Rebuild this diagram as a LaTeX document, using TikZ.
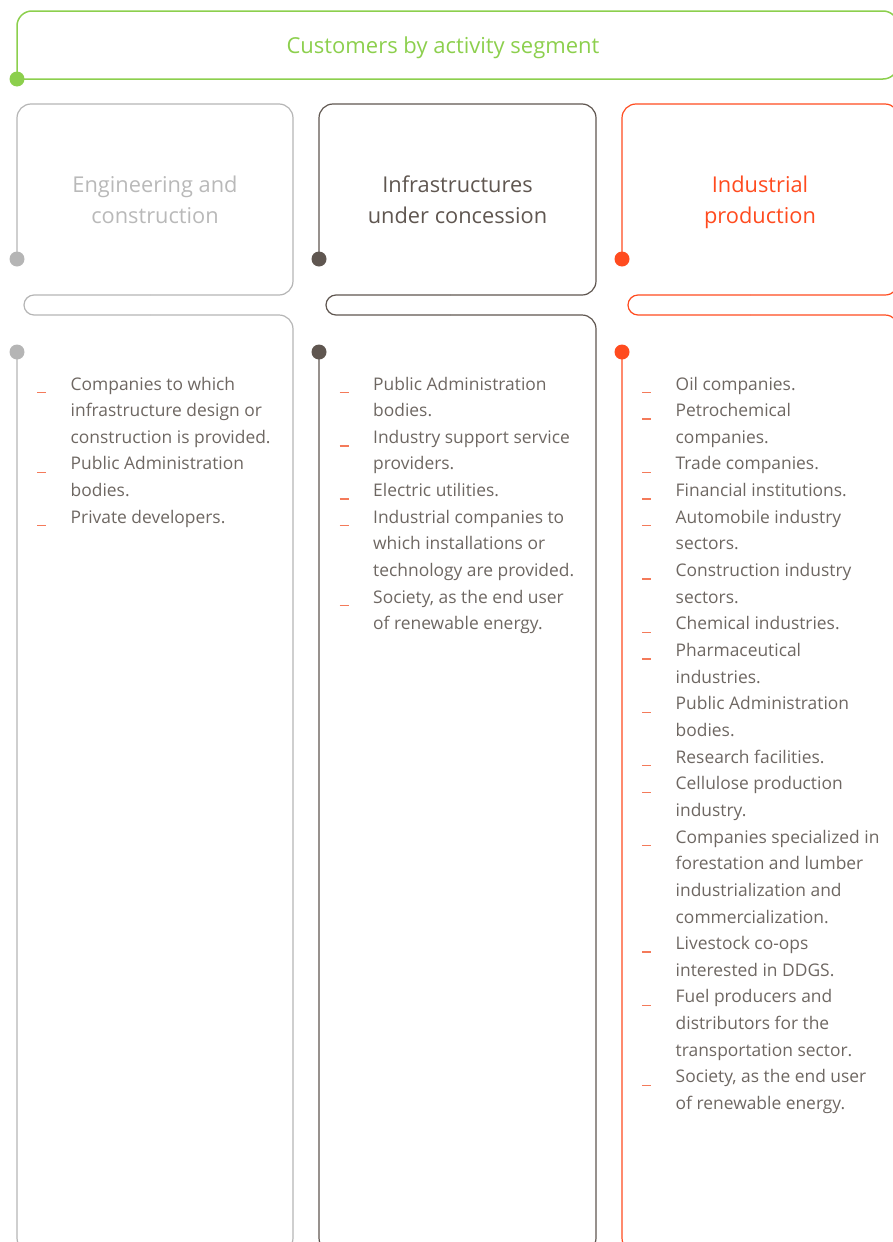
\documentclass[tikz,border=0pt]{standalone}
\usepackage{fontspec}
\setmainfont{Open Sans}
\definecolor{cgreen}{HTML}{8CCF4D}
\definecolor{cgray}{HTML}{B5B5B5}
\definecolor{cgraytxt}{HTML}{B9B9B9}
\definecolor{cbrown}{HTML}{5F5650}
\definecolor{corange}{HTML}{FF4B1F}
\definecolor{cdash}{HTML}{F47A5A}
\definecolor{cbody}{HTML}{6E6762}
\newcommand{\itdash}{\leavevmode\llap{{\color{cdash}\rule[-3.2pt]{9pt}{1.4pt}}\hspace{24.5pt}}}
\newcommand{\bodylist}[1]{\parbox[t]{240pt}{\fontsize{17.4}{26.65}\selectfont\raggedright #1}}
\newcommand{\headtxt}[1]{\parbox[t]{270pt}{\fontsize{21.8}{31.7}\selectfont\centering #1}}
\begin{document}
\begin{tikzpicture}[x=1pt,y=-1pt,
  frame/.style={line width=1.2pt, rounded corners=14pt},
  uturn/.style={line width=1.2pt, rounded corners=10pt},
  dotnode/.style={circle, fill, inner sep=0pt, minimum size=15pt},
  txt/.style={inner sep=0pt, anchor=base west, text=cbody},
  htxt/.style={inner sep=0pt, anchor=base}]
\useasboundingbox (0,0) rectangle (893,1242);
\clip (0,0) rectangle (893,1242);
% banner
\node[dotnode, cgreen] (dg) at (17,79) {};
\draw[cgreen, line width=1.5pt, rounded corners=15pt] (dg.center) -- (17,11) -- (898,11) -- (898,79) -- (dg.center);
\node[htxt, cgreen, font=\fontsize{22}{26}\selectfont] (title) at (443,53) {Customers by activity segment};
% column 1
\node[dotnode, cgray] (d1h) at (17,259) {};
\node[dotnode, cgray] (d1b) at (17,352) {};
\coordinate (u1a) at (150,295);
\coordinate (u1b) at (150,315);
\draw[cgray, frame] (d1h.center) -- (17,104) -- (293,104) -- (293,295) -- (u1a);
\draw[cgray, uturn] (u1a) -- (24,295) -- (24,315) -- (u1b);
\draw[cgray, frame] (u1b) -- (293,315) -- (293,1252) -- (17,1252) -- (d1b.center);
\node[htxt, cgraytxt] (h1) at (155,192) {\headtxt{Engineering and\\construction}};
\node[txt] (l1) at (70.5,390) {\bodylist{%
\itdash Companies to which\\
infrastructure design or\\
construction is provided.\\
\itdash Public Administration\\
bodies.\\
\itdash Private developers.}};
% column 2
\node[dotnode, cbrown] (d2h) at (319,259) {};
\node[dotnode, cbrown] (d2b) at (319,352) {};
\coordinate (u2a) at (450,295);
\coordinate (u2b) at (450,315);
\draw[cbrown, frame] (d2h.center) -- (319,104) -- (596,104) -- (596,295) -- (u2a);
\draw[cbrown, uturn] (u2a) -- (326,295) -- (326,315) -- (u2b);
\draw[cbrown, frame] (u2b) -- (596,315) -- (596,1252) -- (319,1252) -- (d2b.center);
\node[htxt, cbrown] (h2) at (457.5,192) {\headtxt{Infrastructures\\under concession}};
\node[txt] (l2) at (373,390) {\bodylist{%
\itdash Public Administration\\
bodies.\\
\itdash Industry support service\\
providers.\\
\itdash Electric utilities.\\
\itdash Industrial companies to\\
which installations or\\
technology are provided.\\
\itdash Society, as the end user\\
of renewable energy.}};
% column 3
\node[dotnode, corange] (d3h) at (622,259) {};
\node[dotnode, corange] (d3b) at (622,352) {};
\coordinate (u3a) at (750,295);
\coordinate (u3b) at (750,315);
\draw[corange, frame] (d3h.center) -- (622,104) -- (899,104) -- (899,295) -- (u3a);
\draw[corange, uturn] (u3a) -- (628,295) -- (628,315) -- (u3b);
\draw[corange, frame] (u3b) -- (899,315) -- (899,1252) -- (622,1252) -- (d3b.center);
\node[htxt, corange] (h3) at (760,192) {\headtxt{Industrial\\production}};
\node[txt] (l3) at (675.5,390) {\bodylist{%
\itdash Oil companies.\\
\itdash Petrochemical\\
companies.\\
\itdash Trade companies.\\
\itdash Financial institutions.\\
\itdash Automobile industry\\
sectors.\\
\itdash Construction industry\\
sectors.\\
\itdash Chemical industries.\\
\itdash Pharmaceutical\\
industries.\\
\itdash Public Administration\\
bodies.\\
\itdash Research facilities.\\
\itdash Cellulose production\\
industry.\\
\itdash Companies specialized in\\
forestation and lumber\\
industrialization and\\
commercialization.\\
\itdash Livestock co-ops\\
interested in DDGS.\\
\itdash Fuel producers and\\
distributors for the\\
transportation sector.\\
\itdash Society, as the end user\\
of renewable energy.}};
\end{tikzpicture}
\end{document}
